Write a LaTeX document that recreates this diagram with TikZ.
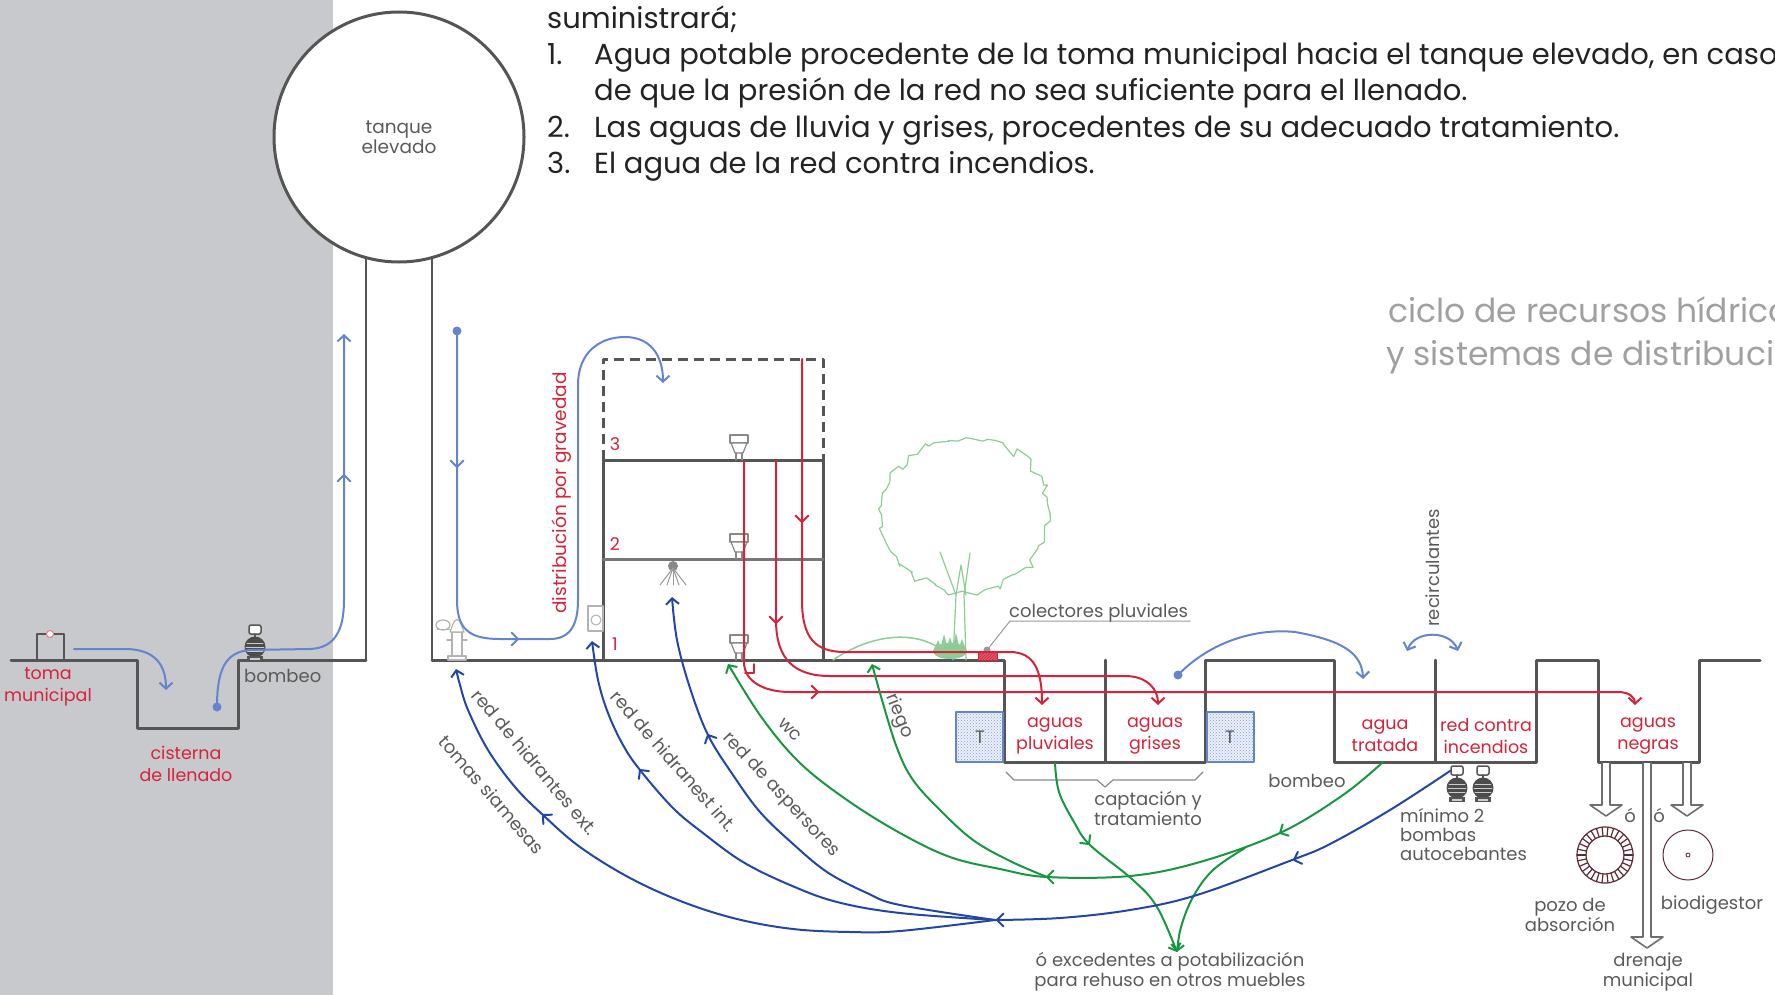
\documentclass[tikz,border=0pt]{standalone}
\usepackage{fontspec}
\setmainfont{Poppins}
\usetikzlibrary{arrows.meta,decorations.pathmorphing,patterns}

\definecolor{structc}{RGB}{85,85,85}
\definecolor{bggray}{RGB}{200,201,204}
\definecolor{redc}{RGB}{214,35,58}
\definecolor{lblue}{RGB}{100,132,205}
\definecolor{dblue}{RGB}{35,70,165}
\definecolor{greenc}{RGB}{25,150,65}
\definecolor{treec}{RGB}{140,205,150}
\definecolor{txtgray}{RGB}{90,90,90}
\definecolor{titlegray}{RGB}{160,160,160}
\definecolor{listc}{RGB}{35,35,35}
\definecolor{pozoc}{RGB}{95,40,50}

% open V head drawn at a point, direction in degrees (y grows downward)
\newcommand\vtip[3]{\draw[#1] (#2) ++(#3+135:9) -- (#2) -- ++(#3-135:9);}

\tikzset{
  structure/.style={draw=structc, line width=3pt},
  lab/.style={inner sep=0pt, align=center, font=\fontsize{18}{20}\selectfont},
  redlab/.style={lab, text=redc, font=\fontsize{17.5}{22}\selectfont},
  graylab/.style={lab, text=txtgray},
  lbline/.style={draw=lblue, line width=2pt},
  dbline/.style={draw=dblue, line width=2pt},
  gline/.style={draw=greenc, line width=2pt},
  rline/.style={draw=redc, line width=2pt},
  pumpicon/.pic={
    \draw[structc, line width=1.5pt, fill=white, rounded corners=2pt] (-6,-36) rectangle (6,-27);
    \draw[structc, line width=1.5pt] (0,-27) -- (0,-24);
    \fill[structc!90!black] (0,-14) circle (10.5);
    \draw[white!70!structc, line width=0.6pt] (-9,-14) -- (9,-14) (-8,-10) -- (8,-10) (-8,-18) -- (8,-18);
    \fill[structc] (-8,-5) rectangle (8,0);
    \fill[white!70!structc] (-5,-3.5) rectangle (5,-1.5);
  },
  toileticon/.pic={
    \draw[structc!70, line width=1.2pt, fill=white] (-9,-25) rectangle (9,-17);
    \draw[structc!70, line width=1.2pt, fill=white] (-8,-17) -- (8,-17) -- (4,-7) -- (-4,-7) -- cycle;
    \draw[structc!70, line width=1.2pt] (-3,-7) -- (-3,0) (3,-7) -- (3,0);
  },
  outarrow/.pic={
    \draw[structc!85, line width=1.6pt, fill=white] (-4,0) -- (-4,#1) -- (-16,#1) -- (0,#1+11) -- (16,#1) -- (4,#1) -- (4,0);
  },
}

\begin{document}
\begin{tikzpicture}[x=1pt, y=-1pt, >={Straight Barb[length=6pt,width=13pt]}, line join=round, line cap=round]
\useasboundingbox (0,0) rectangle (1775,995);

% grey strip on the left
\fill[bggray] (0,0) rectangle (333,995);

% ---------- text block at the top ----------
\begin{scope}[every node/.style={anchor=base west, inner sep=0pt, text=listc, font=\fontsize{29}{34}\selectfont}]
  \node (l0) at (547,29) {suministrará;};
  \node (n1) at (547,65) {1.};
  \node (t1) at (594,65) {Agua potable procedente de la toma municipal hacia el tanque elevado, en caso};
  \node (t1b) at (594,101) {de que la presión de la red no sea suficiente para el llenado.};
  \node (n2) at (547,138) {2.};
  \node (t2) at (594,138) {Las aguas de lluvia y grises, procedentes de su adecuado tratamiento.};
  \node (n3) at (547,174) {3.};
  \node (t3) at (594,174) {El agua de la red contra incendios.};
\end{scope}

% title
\node[anchor=base west, inner sep=0pt, text=titlegray, font=\fontsize{33}{43}\selectfont] (title1) at (1388,322) {ciclo de recursos hídricos};
\node[anchor=base west, inner sep=0pt, text=titlegray, font=\fontsize{33}{43}\selectfont] (title2) at (1386,365) {y sistemas de distribución};

% ---------- elevated tank and ground profile ----------
\draw[structc, line width=2pt] (366,250) -- (366,660);
\draw[structc, line width=2pt] (432,250) -- (432,660);
\node[circle, draw=structc, line width=3pt, fill=white, minimum size=250pt, inner sep=0pt,
      align=center, text=txtgray, font=\fontsize{18.5}{20}\selectfont] (tank) at (399,137) {tanque\\elevado};

\draw[structure] (11,660) -- (137,660) -- (137,728) -- (238,728) -- (238,660) -- (366,660);
\draw[structure, line width=2.5pt] (37,660) -- (37,634) -- (64,634) -- (64,660);
\draw[redc!60, fill=white, line width=1pt] (50,634) circle (3.5);

\draw[structure] (432,660) -- (1004,660) -- (1004,762) -- (1205,762) -- (1205,660) -- (1334,660)
   -- (1334,762) -- (1536,762) -- (1536,660) -- (1598,660) -- (1598,762) -- (1699,762) -- (1699,660) -- (1760,660);
\draw[structure] (1105,660) -- (1105,762);
\draw[structure] (1435,660) -- (1435,762);

% building
\draw[structure] (603,660) -- (603,460) -- (823,460) -- (823,660);
\draw[structure, draw=structc!80] (603,559) -- (823,559);
\draw[structure, dash pattern=on 10pt off 6pt, line cap=butt] (603,460) -- (603,359) -- (823,359) -- (823,460);

\pic at (739,460) {toileticon};
\pic at (739,559) {toileticon};
\pic at (739,660) {toileticon};

% sprinkler
\fill[structc!70] (673,566) circle (5);
\foreach \dx in {-13,-6,0,6,13} \draw[structc!60, line width=1pt] (673,568) -- (673+\dx,585);

% hydrant and siamese connection
\draw[structc!45, line width=1.2pt, fill=white] (452,657) rectangle (462,632);
\draw[structc!45, line width=1.2pt, fill=white] (450,632) -- (464,632) -- (461,624) .. controls (459,618) and (455,618) .. (453,624) -- cycle;
\draw[structc!45, line width=1.2pt, fill=white] (448,660) rectangle (466,656);
\draw[structc!45, line width=1.2pt] (462,640) -- (467,640) (447,640) -- (452,640);
\draw[structc!45, line width=1.2pt, fill=white] (443,625) ellipse (7 and 5);
\draw[structc!45, line width=1pt] (437,629) -- (450,629);

% hose cabinet
\draw[structc!45, line width=1.5pt, fill=white] (588,606) rectangle (603,631);
\draw[structc!45, line width=1pt] (596,620) circle (5);

% floor numbers
\node[redlab] (f3) at (615,444) {3};
\node[redlab] (f2) at (615,544) {2};
\node[redlab] (f1) at (615,644) {1};

% ---------- treatment tanks ----------
\foreach \xa/\xb in {956/1003,1207/1254}{
  \fill[lblue!12] (\xa,712) rectangle (\xb,762);
  \fill[pattern=crosshatch dots, pattern color=lblue!80] (\xa,712) rectangle (\xb,762);
  \draw[lblue, line width=1.5pt] (\xa,712) rectangle (\xb,762);
}
\node[graylab, font=\fontsize{18}{22}\selectfont] (T1) at (980,737) {T};
\node[graylab, font=\fontsize{18}{22}\selectfont] (T2) at (1230,737) {T};

\node[redlab] (pluv) at (1055,736) {aguas\\pluviales};
\node[redlab] (gris) at (1155,736) {aguas\\grises};
\node[redlab] (trat) at (1385,736) {agua\\tratada};
\node[redlab] (inc) at (1486,736) {red contra\\incendios};
\node[redlab] (neg) at (1648,736) {aguas\\negras};

% brace under the collection tanks
\draw[structc!70, line width=1.2pt] (1006,772) -- (1014,780) -- (1097,780) -- (1105,787) -- (1113,780) -- (1195,780) -- (1203,772);
\node[graylab] (capt) at (1148,808) {captación y\\tratamiento};

% ---------- tree and garden ----------
\draw[treec, line width=1.2pt, decorate, decoration={random steps, segment length=7pt, amplitude=5pt}]
  (966,515) ellipse (84 and 77);
\draw[treec, line width=1.2pt] (953,660) -- (956,595) -- (940,552);
\draw[treec, line width=1.2pt] (966,660) -- (964,595) -- (970,553);
\draw[treec, line width=1.2pt] (956,595) -- (961,565) -- (966,595);
\draw[treec, line width=1.5pt] (833,660) .. controls (870,635) and (915,628) .. (945,652);
\fill[treec] (950,651) ellipse (17 and 8);
\foreach \dx/\h in {-12/10,-6/16,0/13,6/17,12/11}
  \fill[treec] (950+\dx-4,650) -- (950+\dx,650-\h) -- (950+\dx+4,650) -- cycle;

% rain collector
\fill[redc!75] (978,651) rectangle (997,660);
\fill[pattern=north east lines, pattern color=redc] (978,651) rectangle (997,660);
\draw[redc, line width=1pt] (978,651) rectangle (997,660);
\fill[structc!60] (987,650) circle (3.5);
\draw[structc!60, line width=1pt] (987,650) -- (1010,621) -- (1190,621);
\node[graylab, anchor=base west] (colect) at (1009,617) {colectores pluviales};

% ---------- pumps ----------
\pic at (255,661) {pumpicon};
\pic at (1457,802) {pumpicon};
\pic at (1483,802) {pumpicon};
\node[graylab, anchor=west] (bomb1) at (244,676) {bombeo};
\node[graylab] (bomb2) at (1307,781) {bombeo};
\node[graylab, anchor=north west, align=left, font=\fontsize{18}{19}\selectfont] (min2) at (1400,808) {mínimo 2\\bombas\\autocebantes};

% ---------- sewage outlets ----------
\pic at (1606,763) {outarrow=42};
\pic at (1687,763) {outarrow=42};
\pic at (1647,763) {outarrow=174};
\node[graylab] (o1) at (1630,815) {ó};
\node[graylab] (o2) at (1659,815) {ó};

\draw[pozoc, line width=1.2pt] (1605,855) circle (19) circle (28);
\foreach \a in {0,12,...,348} \draw[pozoc, line width=1.2pt] (1605,855) ++(\a:19) -- ++(\a:9);
\draw[pozoc, line width=1pt] (1688,855) circle (25);
\draw[pozoc, line width=0.8pt] (1688,855) circle (2);
\node[graylab] (pozo) at (1570,915) {pozo de\\absorción};
\node[graylab] (biod) at (1712,905) {biodigestor};
\node[graylab] (dren) at (1648,972) {drenaje\\municipal};

% ---------- labels ----------
\node[redlab] (toma) at (48,687) {toma\\municipal};
\node[redlab] (cist) at (186,764) {cisterna\\de llenado};
\node[redlab, rotate=90, font=\fontsize{18.5}{22}\selectfont] (grav) at (562,493) {distribución por gravedad};
\node[graylab, rotate=90] (recirc) at (1433,568) {recirculantes};
\node[graylab] (exced) at (1170,972) {ó excedentes a potabilización\\para rehuso en otros muebles};

\node[graylab, rotate=-50] (lhext) at (535,762) {red de hidrantes ext.};
\node[graylab, rotate=-49] (lsiam) at (492,795) {tomas siamesas};
\node[graylab, rotate=-49] (lhint) at (674,761) {red de hidranest int.};
\node[graylab, rotate=-47] (lasp) at (781,795) {red de aspersores};
\node[graylab, rotate=-45] (lwc) at (790,730) {wc};
\node[graylab, rotate=-68] (lrie) at (899,716) {riego};

% ---------- potable water (light blue) ----------
\draw[lbline, ->] (74,649) -- (125,649) .. controls (155,649) and (166,665) .. (166,690);
\fill[lblue] (217,707) circle (4.5);
\draw[lbline, ->] (217,707) .. controls (217,670) and (225,652) .. (250,650) -- (310,649)
   .. controls (335,648) and (344,630) .. (344,600) -- (344,334);
\vtip{lbline}{344,475}{-90}

\fill[lblue] (457,331) circle (4.5);
\draw[lbline, ->] (457,331) -- (457,600) .. controls (457,630) and (470,639) .. (500,639) -- (550,639)
   .. controls (570,639) and (578,625) .. (578,600) -- (578,385) .. controls (578,352) and (600,337) .. (625,337)
   .. controls (650,337) and (663,355) .. (663,383);
\vtip{lbline}{457,467}{90}
\vtip{lbline}{518,639}{0}

\fill[lblue] (1178,675) circle (4.5);
\draw[lbline, ->] (1178,675) .. controls (1210,642) and (1255,628) .. (1295,632) .. controls (1340,640) and (1362,652) .. (1363,679);
\draw[lbline, <->] (1407,651) .. controls (1415,630) and (1450,630) .. (1458,651);

% ---------- drainage (red) ----------
\draw[rline, ->] (802,359) -- (802,600) .. controls (802,638) and (815,652) .. (845,652) -- (1010,652)
   .. controls (1035,652) and (1042,672) .. (1042,705);
\vtip{rline}{802,522}{90}
\draw[rline, ->] (776,460) -- (776,620) .. controls (776,660) and (795,676) .. (830,676) -- (1125,676)
   .. controls (1148,676) and (1158,690) .. (1158,705);
\vtip{rline}{776,623}{90}
\draw[rline, ->] (744,462) -- (744,662) .. controls (744,682) and (765,692) .. (790,692) -- (1618,692)
   .. controls (1630,692) and (1635,698) .. (1635,705);
\vtip{rline}{754,673}{45}
\vtip{rline}{818,692}{0}

% ---------- treated water (green) ----------
\draw[gline, ->] plot[smooth, tension=0.6] coordinates {(1383,762) (1343,795) (1280,833) (1200,862) (1130,876) (1047,877)
   (1000,869) (950,857) (900,833) (847,800) (800,763) (762,718) (728,664)};
\vtip{gline}{1280,833}{152}
\vtip{gline}{1047,877}{180}
\draw[gline, ->] plot[smooth, tension=0.6] coordinates {(1047,877) (1010,861) (973,840) (940,810) (913,780) (897,748) (882,700) (872,664)};
\draw[gline, ->] plot[smooth, tension=0.6] coordinates {(1245,848) (1213,870) (1193,897) (1181,927) (1177,952)};
\draw[gline, ->] plot[smooth, tension=0.6] coordinates {(1055,763) (1059,792) (1074,822) (1090,845) (1133,880) (1157,907) (1177,952)};
\vtip{gline}{1089,844}{52}

% ---------- fire network (dark blue) ----------
\draw[dbline] plot[smooth, tension=0.6] coordinates {(1450,771) (1390,810) (1330,844) (1292,860) (1197,895) (1130,910) (1060,918) (995,920)};
\vtip{dbline}{1294,860}{160}
\vtip{dbline}{997,920}{180}
\draw[dbline, ->] plot[smooth, tension=0.6] coordinates {(995,920) (900,931) (850,932) (793,929) (737,919) (683,902) (630,878)
   (580,847) (543,815) (515,787) (488,750) (468,710) (460,685) (456,669)};
\vtip{dbline}{543,815}{-137}
\draw[dbline, ->] plot[smooth, tension=0.6] coordinates {(995,920) (900,913) (837,902) (790,885) (743,862) (703,833) (673,808)
   (640,770) (623,745) (608,713) (598,680) (592,641)};
\vtip{dbline}{640,770}{-128}
\draw[dbline, ->] plot[smooth, tension=0.6] coordinates {(995,920) (900,905) (867,893) (827,872) (792,843) (760,812) (733,775)
   (708,735) (690,688) (677,640) (672,597)};
\vtip{dbline}{708,735}{-116}

\end{tikzpicture}
\end{document}
